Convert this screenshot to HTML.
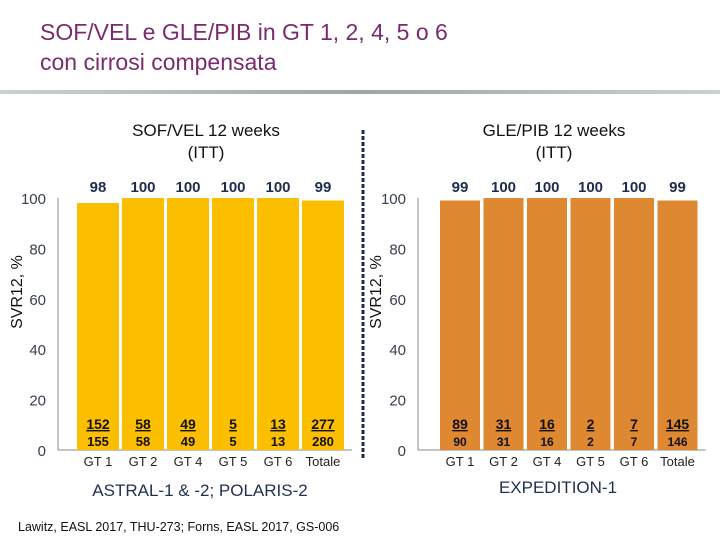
<!DOCTYPE html>
<html><head><meta charset="utf-8"><style>
body{margin:0;background:#fff;}
svg{display:block;font-family:"Liberation Sans",sans-serif;}
</style></head><body>
<svg id="s" width="720" height="540" viewBox="0 0 720 540" xmlns="http://www.w3.org/2000/svg">
<defs><linearGradient id="lg" x1="0" x2="1"><stop offset="0" stop-color="#c9d3cc"/><stop offset="0.5" stop-color="#9aa8a0"/><stop offset="1" stop-color="#c9d3cc"/></linearGradient></defs>
<text x="40" y="40" font-size="23" fill="#7b2a6e">SOF/VEL e GLE/PIB in GT 1, 2, 4, 5 o 6</text>
<text x="40" y="70" font-size="23" fill="#7b2a6e">con cirrosi compensata</text>
<rect x="0" y="90" width="720" height="4" fill="url(#lg)"/>
<text x="206" y="136" font-size="17" text-anchor="middle" fill="#111">SOF/VEL 12 weeks</text>
<text x="206" y="158" font-size="17" text-anchor="middle" fill="#111">(ITT)</text>
<text x="554" y="136" font-size="17" text-anchor="middle" fill="#111">GLE/PIB 12 weeks</text>
<text x="554" y="158" font-size="17" text-anchor="middle" fill="#111">(ITT)</text>
<line x1="363" y1="130" x2="363" y2="458" stroke="#1f2d4d" stroke-width="3" stroke-dasharray="4,2"/>
<text x="22" y="292" font-size="16" text-anchor="middle" transform="rotate(-90 22 292)" fill="#111">SVR12, %</text>
<text x="381" y="292" font-size="16" text-anchor="middle" transform="rotate(-90 381 292)" fill="#111">SVR12, %</text>
<text x="200" y="496" font-size="17" text-anchor="middle" fill="#1f3050">ASTRAL-1 &amp; -2; POLARIS-2</text>
<text x="558" y="493" font-size="17" text-anchor="middle" fill="#1f3050">EXPEDITION-1</text>
<text x="18" y="531" font-size="12.5" fill="#111">Lawitz, EASL 2017, THU-273; Forns, EASL 2017, GS-006</text>
<g id="charts"></g>
</svg>
<script>
const categories=["GT 1","GT 2","GT 4","GT 5","GT 6","Totale"];
const leftValues=[98,100,100,100,100,99];
const leftNum=[152,58,49,5,13,277];
const leftDen=[155,58,49,5,13,280];
const rightValues=[99,100,100,100,100,99];
const rightNum=[89,31,16,2,7,145];
const rightDen=[90,31,16,2,7,146];
const yTicks=[0,20,40,60,80,100];
const NS="http://www.w3.org/2000/svg";
const g=document.getElementById('charts');
function mk(t,a,txt){const e=document.createElementNS(NS,t);for(const k in a)e.setAttribute(k,a[k]);if(txt!==undefined)e.textContent=txt;g.appendChild(e);return e;}
function yScale(v){return 450-v*2.52;}
function drawChart(side,axisX,x0,pitch,bw,color,vals,num,den){
  const xScale=i=>x0+i*pitch;
  let ax=mk('line',{x1:axisX,y1:yScale(100),x2:axisX,y2:yScale(0),stroke:'#888','stroke-width':1});
  
  
  let bx=mk('line',{x1:axisX,y1:yScale(0),x2:x0+5*pitch+bw+8,y2:yScale(0),stroke:'#888','stroke-width':1});
  
  
  yTicks.forEach(t=>{
    let tl=mk('text',{x:axisX-12,y:yScale(t)+6,'font-size':15,'text-anchor':'end',fill:'#3a4050'},String(t));
    
    
  });
  categories.forEach((c,i)=>{
    const x=xScale(i),cx=x+bw/2;
    let r=mk('rect',{x:x,y:yScale(vals[i]),width:bw,height:yScale(0)-yScale(vals[i]),fill:color});
    
    
    let v=mk('text',{x:cx,y:192,'font-size':15,'font-weight':'bold','text-anchor':'middle',fill:'#1f2d4d'},String(vals[i]));
    
    
    let n=mk('text',{x:cx,y:429,'font-size':14,'font-weight':'bold','text-anchor':'middle',fill:'#111','text-decoration':'underline'},String(num[i]));
    
    
    let d=mk('text',{x:cx,y:446,'font-size':side==='right'?12:13,'font-weight':'bold','text-anchor':'middle',fill:'#111'},String(den[i]));
    
    
    let cl=mk('text',{x:cx,y:466,'font-size':13,'text-anchor':'middle',fill:'#222'},c);
    
    
  });
}
drawChart('left',58,77,45,42,'#fbbf00',leftValues,leftNum,leftDen);
drawChart('right',418,440,43.5,40,'#de8832',rightValues,rightNum,rightDen);
</script>
</body></html>
